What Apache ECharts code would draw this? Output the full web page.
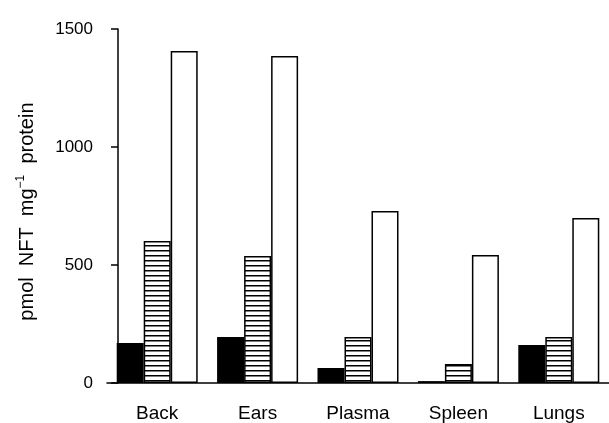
<!DOCTYPE html>
<html>
<head>
<meta charset="utf-8">
<script src="https://cdn.jsdelivr.net/npm/echarts@6/dist/echarts.min.js"></script>
<style>
  html, body { margin: 0; padding: 0; background: #fff; }
  #chart { width: 609px; height: 423px; }
</style>
</head>
<body>
<div id="chart"></div>
<script>
// tissues on the x axis
const tissues = ['Back', 'Ears', 'Plasma', 'Spleen', 'Lungs'];
// three groups of bars (solid, hatched, open)
const solidVals = [169, 195, 64, 8, 161];
const hatchVals = [602, 538, 195, 80, 195];
const openVals = [1407, 1386, 729, 542, 699];
const yTicks = [0, 500, 1000, 1500];

const FONT = '"Liberation Sans", Arial, Helvetica, sans-serif';

// horizontal line hatching
function makeHatch() {
  const c = document.createElement('canvas');
  c.width = 6;
  c.height = 5;
  const ctx = c.getContext('2d');
  ctx.fillStyle = '#fff';
  ctx.fillRect(0, 0, 6, 5);
  ctx.fillStyle = '#000';
  ctx.fillRect(0, 0, 6, 1.5);
  return c;
}

const chart = echarts.init(document.getElementById('chart'));

function barSeries(data, fill) {
  return {
    type: 'bar',
    data: data,
    barWidth: 27,
    barGap: '0%',
    animation: false,
    itemStyle: { color: fill, borderColor: '#000', borderWidth: 1.5 }
  };
}

chart.setOption({
  backgroundColor: '#fff',
  grid: { left: 107, top: 29, width: 511, height: 354 },
  xAxis: {
    type: 'category',
    data: tissues,
    axisLine: { lineStyle: { color: '#000', width: 1.5 } },
    axisTick: { show: false },
    axisLabel: { color: '#000', fontSize: 19, fontFamily: FONT, margin: 21 }
  },
  yAxis: {
    type: 'value',
    min: yTicks[0],
    max: yTicks[yTicks.length - 1],
    interval: yTicks[1] - yTicks[0],
    offset: -11,
    splitLine: { show: false },
    axisLine: { show: true, lineStyle: { color: '#000', width: 1.5 } },
    axisTick: { show: true, length: 7, lineStyle: { color: '#000', width: 1.5 } },
    axisLabel: {
      color: '#000', fontSize: 17, fontFamily: FONT, margin: 25,
      formatter: v => String(v)
    },
    name: 'pmol  NFT  mg{sup|−1}  protein  ',
    nameLocation: 'middle',
    nameGap: 79,
    nameTextStyle: {
      color: '#000', fontSize: 20, fontFamily: FONT,
      rich: { sup: { fontSize: 12, fontFamily: FONT, color: '#000', padding: [0, 0, 12, 0] } }
    }
  },
  series: [
    barSeries(solidVals, '#000'),
    barSeries(hatchVals, { image: makeHatch(), repeat: 'repeat' }),
    barSeries(openVals, '#fff')
  ]
});
</script>
</body>
</html>
